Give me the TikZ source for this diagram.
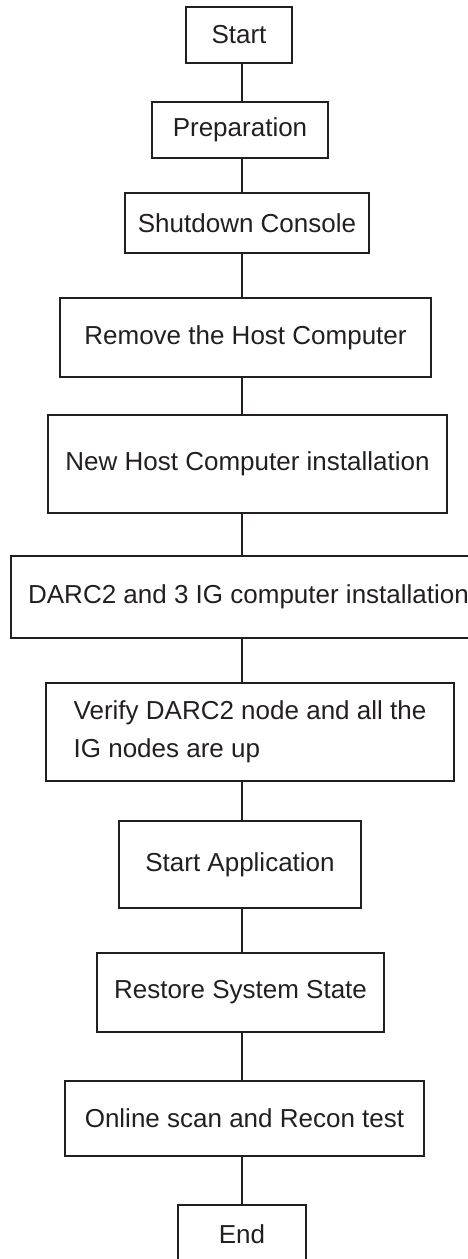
\documentclass[tikz,border=0pt]{standalone}
\usepackage{fontspec}
\setmainfont{Liberation Sans}
\definecolor{ink}{RGB}{35,31,32}

\begin{document}
\begin{tikzpicture}[x=1pt, y=-1pt,
  box/.style={shape=rectangle, draw=ink, line width=2.3pt, text=ink, inner sep=0pt, font=\fontsize{26}{38}\selectfont},
  link/.style={-, draw=ink, line width=2.3pt}]
\useasboundingbox (0,0) rectangle (467,1259);
\coordinate (axis) at (242,0);
\node[box, minimum width=106, minimum height=56] (start) at (239, 35) {Start};
\node[box, minimum width=176, minimum height=56] (prep) at (240, 130) {Preparation};
\node[box, minimum width=244, minimum height=60] (shut) at (247, 223) {Shutdown Console};
\node[box, minimum width=371, minimum height=79] (remove) at (245.5, 337.5) {Remove the Host Computer};
\node[box, minimum width=399, minimum height=98] (newhost) at (247.5, 464) {New Host Computer installation};
\node[box, minimum width=475, minimum height=82] (darc) at (248.5, 597) {DARC2 and 3 IG computer installation};
\node[box, minimum width=408, minimum height=98, align=left] (verify) at (250, 732) {Verify DARC2 node and all the\\IG nodes are up};
\node[box, minimum width=242, minimum height=87] (startapp) at (240, 864.5) {Start Application};
\node[box, minimum width=287, minimum height=79] (restore) at (240.5, 992.5) {Restore System State};
\node[box, minimum width=359, minimum height=75] (online) at (244.5, 1118.5) {Online scan and Recon test};
\node[box, minimum width=128, minimum height=58] (end) at (242, 1234) {End};
\draw[link] (axis |- start.south) -- (axis |- prep.north);
\draw[link] (axis |- prep.south) -- (axis |- shut.north);
\draw[link] (axis |- shut.south) -- (axis |- remove.north);
\draw[link] (axis |- remove.south) -- (axis |- newhost.north);
\draw[link] (axis |- newhost.south) -- (axis |- darc.north);
\draw[link] (axis |- darc.south) -- (axis |- verify.north);
\draw[link] (axis |- verify.south) -- (axis |- startapp.north);
\draw[link] (axis |- startapp.south) -- (axis |- restore.north);
\draw[link] (axis |- restore.south) -- (axis |- online.north);
\draw[link] (axis |- online.south) -- (axis |- end.north);
\end{tikzpicture}
\end{document}
